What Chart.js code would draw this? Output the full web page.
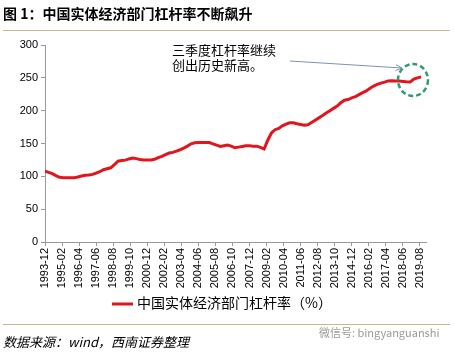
<!DOCTYPE html>
<html>
<head>
<meta charset="utf-8">
<script src="https://cdn.jsdelivr.net/npm/chart.js@4.4.0/dist/chart.umd.min.js"></script>
<style>
  html, body { margin: 0; padding: 0; background: #fff; }
  #wrap { width: 454px; height: 353px; position: relative; }
</style>
</head>
<body>
<div id="wrap"><canvas id="mycanvas" width="454" height="353"></canvas></div>
<script>
// quarterly readings, first point 1993-12, one every 3 months
var startYear = 1993, startMonth = 12;
var leverage = [
  108, 106, 104, 101,
  98.5, 98, 98, 98,
  98, 99, 100.5, 101.5,
  102, 103, 105, 107,
  110, 111.5, 113, 118,
  123, 124, 124.7, 126.5,
  128, 127, 125.7, 125,
  125, 125, 126, 128.5,
  130.5, 133, 135.5, 136.5,
  138.5, 140.5, 143, 146,
  149.5, 151, 151.5, 151.5,
  151.5, 151.5, 149.5, 147.5,
  145.5, 146.5, 147.5, 146,
  143.5, 144.5, 145.5, 146.5,
  146.5, 146, 146, 144,
  141.5, 155, 166, 171,
  173, 177, 179.5, 181.5,
  181.5, 180, 179, 178,
  178.5, 182, 185.5, 189,
  192.5, 196.5, 200, 203.5,
  207, 212, 216, 217,
  219.5, 221.5, 224.5, 227.5,
  230, 234, 237.5, 240,
  242, 243.5, 245.3, 245.5,
  245, 245, 244.5, 244,
  243.7, 248, 250, 251.4
];
var yTicks = [0, 50, 100, 150, 200, 250, 300];
var seriesName = '中国实体经济部门杠杆率（%）';
var title = '图 1：中国实体经济部门杠杆率不断飙升';
var note = ['三季度杠杆率继续', '创出历史新高。'];
var source = '数据来源：wind，西南证券整理';
var watermark = '微信号: bingyanguanshi';

function monthLabel(m) {
  var total = startYear * 12 + (startMonth - 1) + m;
  var y = Math.floor(total / 12), mo = total % 12 + 1;
  return y + '-' + (mo < 10 ? '0' + mo : mo);
}

var points = [];
for (var i = 0; i < leverage.length; i++) {
  points.push({x: i * 3, y: leverage[i]});
}

var decor = {
  id: 'decor',
  afterDatasetsDraw: function(chart) {
    var ctx = chart.ctx;
    var xs = chart.scales.x, ys = chart.scales.y;
    ctx.save();
    // arrow
    var ax1 = 290, ay1 = 61, ax2 = 402, ay2 = 68;
    ctx.strokeStyle = '#7d93b5';
    ctx.lineWidth = 1;
    ctx.beginPath(); ctx.moveTo(ax1, ay1); ctx.lineTo(ax2, ay2); ctx.stroke();
    var ang = Math.atan2(ay2 - ay1, ax2 - ax1);
    ctx.beginPath();
    ctx.moveTo(ax2 - 7 * Math.cos(ang - 0.45), ay2 - 7 * Math.sin(ang - 0.45));
    ctx.lineTo(ax2, ay2);
    ctx.lineTo(ax2 - 7 * Math.cos(ang + 0.45), ay2 - 7 * Math.sin(ang + 0.45));
    ctx.stroke();
    // dashed circle round the last points
    ctx.strokeStyle = '#2f9c6e';
    ctx.lineWidth = 2.5;
    ctx.setLineDash([5, 3]);
    ctx.beginPath();
    ctx.ellipse(413, 80, 15, 16, 0, 0, Math.PI * 2);
    ctx.stroke();
    ctx.setLineDash([]);
    ctx.restore();
  },
  afterDraw: function(chart) {
    var ctx = chart.ctx;
    ctx.save();
    ctx.fillStyle = '#000';
    ctx.textBaseline = 'middle';
    ctx.textAlign = 'left';
    ctx.font = 'bold 14px "Noto Sans CJK SC"';
    ctx.fillText(title, 3, 14);
    ctx.strokeStyle = '#c9b88e';
    ctx.lineWidth = 1;
    ctx.beginPath(); ctx.moveTo(3, 30.5); ctx.lineTo(450, 30.5); ctx.stroke();
    ctx.beginPath(); ctx.moveTo(3, 324.5); ctx.lineTo(450, 324.5); ctx.stroke();
    // note
    ctx.font = '13px "Noto Sans CJK SC"';
    ctx.fillText(note[0], 172, 50);
    ctx.fillText(note[1], 172, 65);
    // legend
    ctx.strokeStyle = '#e0161c';
    ctx.lineWidth = 3;
    ctx.beginPath(); ctx.moveTo(112, 304); ctx.lineTo(133, 304); ctx.stroke();
    ctx.font = '14px "Noto Sans CJK SC"';
    ctx.fillText(seriesName, 137, 303);
    // source
    ctx.font = 'italic 13px "Noto Sans CJK SC"';
    ctx.fillText(source, 3, 342);
    ctx.fillStyle = '#9a9a9a';
    ctx.font = '11px "Noto Sans CJK SC"';
    ctx.fillText(watermark, 319, 333);
    ctx.restore();
  }
};

var ctx = document.getElementById('mycanvas');
var lineGraph = new Chart(ctx, {
  type: 'line',
  data: {
    datasets: [{
      label: seriesName,
      data: points,
      borderColor: '#e0161c',
      backgroundColor: '#e0161c',
      borderWidth: 3,
      pointRadius: 0,
      tension: 0
    }]
  },
  options: {
    responsive: false,
    animation: false,
    layout: { padding: { left: 0, top: 45, right: 28, bottom: 56 } },
    plugins: { legend: { display: false }, tooltip: { enabled: false } },
    scales: {
      x: {
        type: 'linear',
        min: 0,
        max: 313,
        afterFit: function(scale) { scale.height = 55; },
        afterBuildTicks: function(scale) {
          var t = [];
          for (var m = 0; m <= 308; m += 14) t.push({value: m});
          scale.ticks = t;
        },
        grid: { drawOnChartArea: false, color: '#999', tickLength: 4 },
        border: { color: '#999' },
        ticks: {
          autoSkip: false,
          maxRotation: 90,
          minRotation: 90,
          color: '#000',
          padding: 2,
          font: { family: 'Liberation Sans', size: 11 },
          callback: function(v) { return monthLabel(v); }
        }
      },
      y: {
        min: 0,
        max: 300,
        afterFit: function(scale) { scale.width = 45; },
        afterBuildTicks: function(scale) {
          scale.ticks = yTicks.map(function(v) { return {value: v}; });
        },
        grid: { drawOnChartArea: false, color: '#999', tickLength: 4 },
        border: { color: '#999' },
        ticks: {
          color: '#000',
          padding: 3,
          font: { family: 'Liberation Sans', size: 11 }
        }
      }
    }
  },
  plugins: [decor]
});
</script>
</body>
</html>
